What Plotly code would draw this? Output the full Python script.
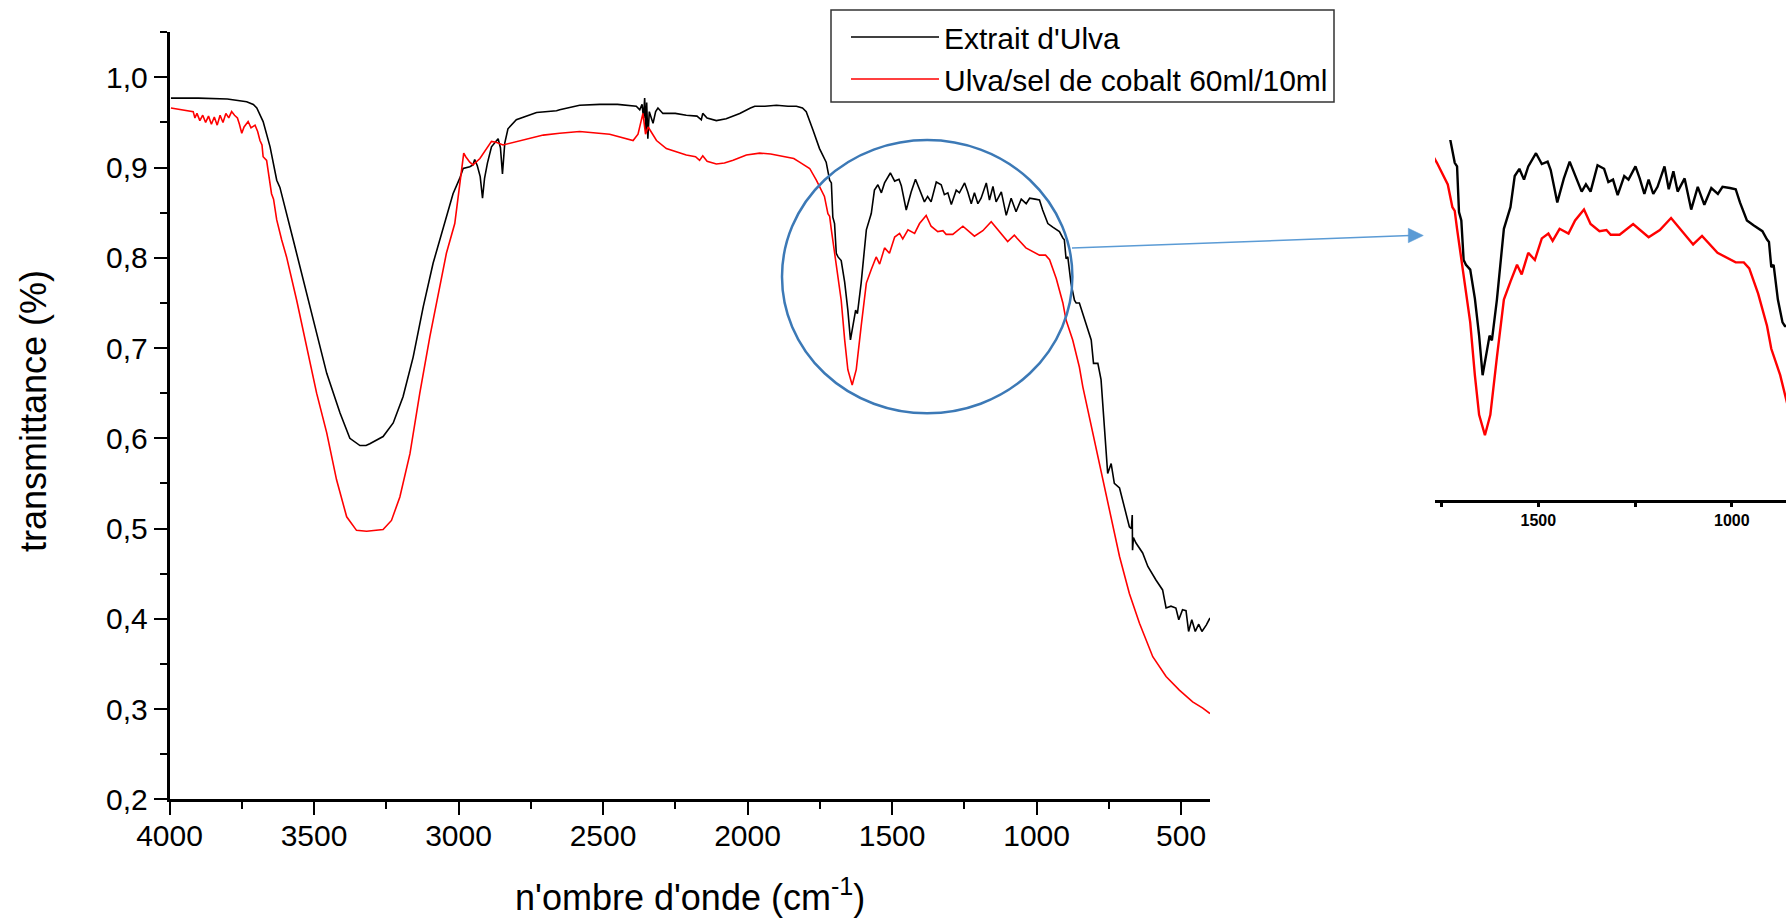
import plotly.graph_objects as go

W, H = 1786, 923

# ---------------- data ----------------
wn_black = [3995, 3900, 3800, 3733, 3710, 3698, 3676, 3652, 3629, 3618, 3572, 3514, 3456, 3410, 3376,
            3341, 3320, 3307, 3285, 3261, 3226, 3192, 3157, 3122, 3088, 3042, 3019, 2996, 2984, 2961,
            2950, 2944, 2935, 2925, 2917, 2910, 2900, 2886, 2870, 2863, 2855, 2848, 2840, 2829, 2800,
            2730, 2661, 2650, 2581, 2511, 2450, 2385, 2373, 2365, 2360, 2356, 2352, 2349, 2345, 2340,
            2333, 2327, 2318, 2310, 2293, 2250, 2212, 2175, 2160, 2155, 2140, 2108, 2074, 2050, 2027,
            1990, 1975, 1940, 1900, 1860, 1831, 1810, 1797, 1774, 1751, 1728, 1716, 1710, 1705, 1699,
            1693, 1687, 1676, 1664, 1653, 1644, 1636, 1626, 1620, 1607, 1589, 1572, 1561, 1549, 1537,
            1526, 1506, 1491, 1476, 1468, 1451, 1434, 1419, 1405, 1388, 1377, 1365, 1347, 1330, 1319,
            1307, 1295, 1278, 1267, 1249, 1238, 1226, 1215, 1203, 1192, 1174, 1163, 1151, 1140, 1122,
            1105, 1088, 1071, 1053, 1036, 1024, 1005, 990, 979, 961, 944, 921, 909, 904, 898,
            892, 881, 869, 863, 852, 829, 811, 803, 788, 777, 765, 754, 742, 731, 713,
            696, 679, 672, 669, 668, 665, 656, 633, 615, 604, 587, 564, 552, 535, 518,
            508, 495, 483, 474, 463, 451, 439, 428, 413, 400]
t_black = [0.977, 0.977, 0.976, 0.973, 0.970, 0.966, 0.951, 0.923, 0.886, 0.878, 0.820, 0.746, 0.672, 0.628, 0.600,
           0.592, 0.592, 0.594, 0.598, 0.602, 0.617, 0.646, 0.690, 0.746, 0.794, 0.846, 0.871, 0.888, 0.899, 0.901,
           0.903, 0.909, 0.902, 0.890, 0.866, 0.888, 0.905, 0.923, 0.930, 0.932, 0.922, 0.893, 0.927, 0.943, 0.953,
           0.961, 0.963, 0.964, 0.969, 0.970, 0.970, 0.968, 0.964, 0.970, 0.955, 0.977, 0.940, 0.972, 0.932, 0.962,
           0.955, 0.949, 0.962, 0.966, 0.960, 0.960, 0.958, 0.957, 0.953, 0.960, 0.955, 0.952, 0.954, 0.957, 0.960,
           0.966, 0.968, 0.968, 0.969, 0.968, 0.968, 0.966, 0.962, 0.942, 0.921, 0.906, 0.886, 0.883, 0.845, 0.838,
           0.805, 0.801, 0.797, 0.773, 0.742, 0.709, 0.724, 0.742, 0.738, 0.772, 0.831, 0.849, 0.875, 0.881, 0.872,
           0.883, 0.894, 0.885, 0.887, 0.880, 0.853, 0.873, 0.887, 0.875, 0.862, 0.868, 0.862, 0.884, 0.881, 0.870,
           0.872, 0.859, 0.875, 0.872, 0.883, 0.873, 0.860, 0.872, 0.860, 0.866, 0.883, 0.864, 0.879, 0.862, 0.873,
           0.847, 0.866, 0.851, 0.865, 0.860, 0.866, 0.865, 0.864, 0.853, 0.838, 0.834, 0.829, 0.822, 0.820, 0.799,
           0.801, 0.772, 0.753, 0.750, 0.750, 0.727, 0.709, 0.683, 0.683, 0.665, 0.613, 0.561, 0.572, 0.550, 0.545,
           0.524, 0.502, 0.500, 0.515, 0.476, 0.490, 0.484, 0.473, 0.458, 0.452, 0.443, 0.432, 0.412, 0.414, 0.412,
           0.399, 0.410, 0.409, 0.386, 0.399, 0.386, 0.394, 0.386, 0.393, 0.401]

wn_red = [3995, 3960, 3930, 3918, 3912, 3905, 3895, 3885, 3875, 3865, 3855, 3845, 3835, 3825, 3815,
          3805, 3795, 3785, 3775, 3765, 3758, 3750, 3742, 3735, 3728, 3718, 3704, 3695, 3687, 3680,
          3676, 3664, 3655, 3647, 3640, 3629, 3612, 3595, 3560, 3526, 3491, 3456, 3422, 3387, 3353,
          3318, 3290, 3261, 3232, 3203, 3168, 3134, 3099, 3076, 3042, 3013, 2996, 2982, 2975, 2961,
          2950, 2926, 2886, 2870, 2846, 2820, 2788, 2707, 2650, 2581, 2477, 2396, 2379, 2370, 2362,
          2353, 2344, 2315, 2281, 2212, 2180, 2166, 2155, 2140, 2108, 2080, 2050, 2004, 1958, 1920,
          1866, 1840, 1820, 1785, 1762, 1751, 1739, 1734, 1722, 1716, 1710, 1699, 1687, 1676, 1664,
          1653, 1638, 1624, 1607, 1589, 1572, 1555, 1543, 1526, 1509, 1491, 1474, 1463, 1445, 1422,
          1405, 1382, 1365, 1342, 1324, 1313, 1290, 1255, 1215, 1186, 1157, 1128, 1100, 1077, 1037,
          990, 969, 955, 932, 909, 898, 875, 852, 840, 806, 771, 742, 713, 679, 644,
          598, 552, 506, 460, 425, 400]
t_red = [0.966, 0.964, 0.962, 0.962, 0.955, 0.960, 0.952, 0.958, 0.950, 0.957, 0.948, 0.956, 0.947, 0.958, 0.950,
         0.960, 0.955, 0.962, 0.958, 0.955, 0.948, 0.938, 0.945, 0.948, 0.951, 0.944, 0.947, 0.940, 0.930, 0.925,
         0.912, 0.908, 0.890, 0.871, 0.865, 0.842, 0.820, 0.801, 0.753, 0.701, 0.650, 0.606, 0.554, 0.513, 0.498,
         0.497, 0.498, 0.499, 0.509, 0.535, 0.583, 0.650, 0.713, 0.750, 0.805, 0.838, 0.878, 0.916, 0.912, 0.906,
         0.903, 0.910, 0.929, 0.928, 0.925, 0.927, 0.930, 0.936, 0.938, 0.940, 0.937, 0.930, 0.937, 0.948, 0.960,
         0.937, 0.945, 0.930, 0.921, 0.914, 0.912, 0.908, 0.913, 0.907, 0.904, 0.905, 0.908, 0.914, 0.916, 0.915,
         0.912, 0.910, 0.906, 0.899, 0.886, 0.879, 0.871, 0.868, 0.849, 0.846, 0.831, 0.807, 0.779, 0.753, 0.709,
         0.676, 0.659, 0.676, 0.724, 0.772, 0.787, 0.801, 0.793, 0.811, 0.805, 0.823, 0.827, 0.821, 0.831, 0.827,
         0.838, 0.847, 0.835, 0.829, 0.830, 0.826, 0.826, 0.835, 0.824, 0.830, 0.840, 0.829, 0.818, 0.825, 0.811,
         0.803, 0.803, 0.798, 0.777, 0.750, 0.731, 0.709, 0.679, 0.657, 0.606, 0.554, 0.509, 0.469, 0.428, 0.395,
         0.358, 0.336, 0.321, 0.308, 0.301, 0.295]

series_names = ["Extrait d'Ulva", "Ulva/sel de cobalt 60ml/10ml"]
x_tickvals = [4000, 3500, 3000, 2500, 2000, 1500, 1000, 500]
x_ticktext = ["4000", "3500", "3000", "2500", "2000", "1500", "1000", "500"]
y_tickvals = [0.2, 0.3, 0.4, 0.5, 0.6, 0.7, 0.8, 0.9, 1.0]
y_ticktext = ["0,2", "0,3", "0,4", "0,5", "0,6", "0,7", "0,8", "0,9", "1,0"]
inset_tickvals = [1500, 1000]
inset_ticktext = ["1500", "1000"]
x_title = "n'ombre d'onde (cm<sup>-1</sup>)"
y_title = "transmittance (%)"

# ---------------- helpers (pixel -> paper) ----------------
def px(x):
    return x / W

def py(y):
    return 1 - y / H

FONT = "Arial, 'Liberation Sans', sans-serif"

fig = go.Figure()
fig.add_trace(go.Scatter(x=wn_black, y=t_black, mode="lines", name=series_names[0],
                         line=dict(color="black", width=1.6), xaxis="x", yaxis="y"))
fig.add_trace(go.Scatter(x=wn_red, y=t_red, mode="lines", name=series_names[1],
                         line=dict(color="#ff0000", width=1.6), xaxis="x", yaxis="y"))
# inset (zoom of the circled region)
fig.add_trace(go.Scatter(x=wn_black, y=t_black, mode="lines", showlegend=False,
                         line=dict(color="black", width=2.4), xaxis="x2", yaxis="y2"))
fig.add_trace(go.Scatter(x=wn_red, y=t_red, mode="lines", showlegend=False,
                         line=dict(color="#ff0000", width=2.4), xaxis="x2", yaxis="y2"))

axis_common = dict(showgrid=False, zeroline=False, showline=True, linecolor="black", linewidth=2.5,
                   ticks="outside", ticklen=13, tickwidth=2, tickcolor="black", automargin=False,
                   tickfont=dict(family=FONT, size=30, color="black"))

fig.update_layout(
    width=W, height=H,
    margin=dict(l=0, r=0, t=0, b=0, autoexpand=False),
    paper_bgcolor="white", plot_bgcolor="white",
    font=dict(family=FONT, color="black"),
    xaxis=dict(domain=[px(169.5), px(1210)], range=[4000, 400], anchor="y",
               tickmode="array", tickvals=x_tickvals, ticktext=x_ticktext, ticklabelstandoff=-5,
               minor=dict(ticks="outside", ticklen=7, tickwidth=2, tickcolor="black",
                          tick0=0, dtick=250, showgrid=False),
               **axis_common),
    yaxis=dict(domain=[py(799.3), py(32.2)], range=[0.2, 1.05], anchor="x",
               tickmode="array", tickvals=y_tickvals, ticktext=y_ticktext,
               minor=dict(ticks="outside", ticklen=7, tickwidth=2, tickcolor="black",
                          tick0=0.2, dtick=0.05, showgrid=False),
               **axis_common),
    xaxis2=dict(domain=[px(1435), 1.0], range=[1767, 860], anchor="y2", automargin=False,
                showgrid=False, zeroline=False, showline=True, linecolor="black", linewidth=3,
                ticks="outside", ticklen=4, tickwidth=2.5, tickcolor="black",
                tickmode="array", tickvals=inset_tickvals, ticktext=inset_ticktext,
                minor=dict(ticks="outside", ticklen=4, tickwidth=2.5, tickcolor="black",
                           tick0=0, dtick=250, showgrid=False),
                tickfont=dict(family=FONT, size=16, color="black", weight="bold")),
    yaxis2=dict(domain=[py(500), py(140)], range=[0.605, 0.905], anchor="x2", automargin=False,
                visible=False, showgrid=False, zeroline=False),
    legend=dict(x=px(846), y=py(11), xanchor="left", yanchor="top",
                bgcolor="rgba(0,0,0,0)", borderwidth=0,
                font=dict(family=FONT, size=30, color="black"),
                itemwidth=88, tracegroupgap=0),
    showlegend=True,
)

# legend frame
fig.add_shape(type="rect", xref="paper", yref="paper",
              x0=px(831), x1=px(1334), y0=py(102), y1=py(10),
              line=dict(color="#333333", width=1.5), fillcolor="white", layer="below")

fig.add_annotation(text=y_title, xref="paper", yref="paper", x=px(34), y=py(411),
                   textangle=-90, showarrow=False, xanchor="center", yanchor="middle",
                   font=dict(family=FONT, size=36, color="black"))
fig.add_annotation(text=x_title, xref="paper", yref="paper", x=px(690), y=py(920),
                   showarrow=False, xanchor="center", yanchor="bottom",
                   font=dict(family=FONT, size=36, color="black"))

# ellipse highlighting the 1700-900 region
fig.add_shape(type="circle", xref="paper", yref="paper",
              x0=px(782), x1=px(1072.4), y0=py(413.3), y1=py(140),
              line=dict(color="#3c79b6", width=2.5), fillcolor="rgba(0,0,0,0)")
# arrow to the inset
fig.add_shape(type="line", xref="paper", yref="paper",
              x0=px(1072), y0=py(248), x1=px(1410), y1=py(235.6),
              line=dict(color="#5b9bd5", width=1.5))
fig.add_shape(type="path", xref="paper", yref="paper",
              path=f"M {px(1423.3)},{py(235.5)} L {px(1408.3)},{py(228.3)} L {px(1408.3)},{py(242.7)} Z",
              fillcolor="#5b9bd5", line=dict(color="#5b9bd5", width=0.5))

fig.write_html("out.html")
